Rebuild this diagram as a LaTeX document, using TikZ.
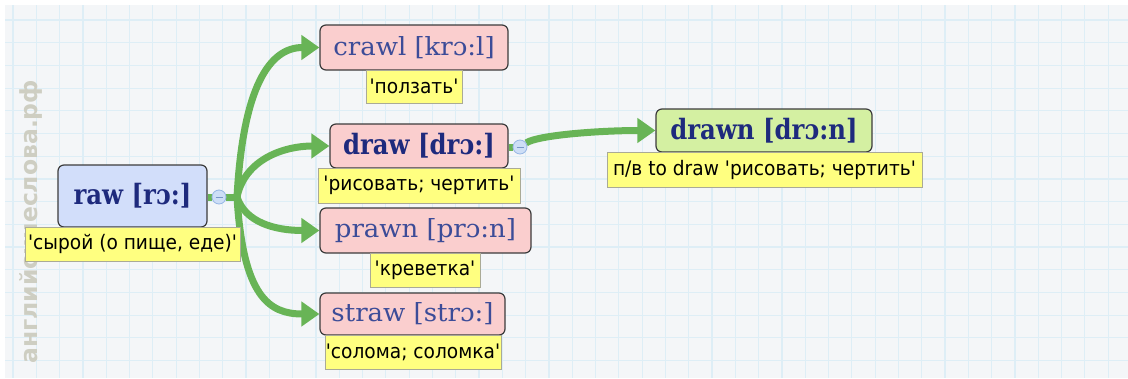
\documentclass[tikz,border=0pt]{standalone}
\usepackage{fontspec}
\usetikzlibrary{arrows.meta}
\newfontfamily\hwreg{DejaVu Serif}[FakeStretch=1.04]
\newfontfamily\hwbold{DejaVu Serif}[FakeStretch=0.87]
\newfontfamily\lblfont{DejaVu Sans}[FakeStretch=0.93]
\newfontfamily\wmfont{DejaVu Sans}
\pgfdeclarelayer{back}
\pgfdeclarelayer{links}
\pgfsetlayers{back,links,main}
\definecolor{bgc}{RGB}{244,246,248}
\definecolor{gridc}{RGB}{222,238,246}
\definecolor{wmc}{RGB}{206,206,194}
\definecolor{linkc}{RGB}{104,180,86}
\definecolor{bluebox}{RGB}{210,222,250}
\definecolor{pinkbox}{RGB}{250,206,206}
\definecolor{greenbox}{RGB}{212,240,162}
\definecolor{yellowbox}{RGB}{255,255,128}
\definecolor{yellowedge}{RGB}{170,170,150}
\definecolor{edgec}{RGB}{60,60,60}
\definecolor{boldtext}{RGB}{30,42,125}
\definecolor{regtext}{RGB}{60,76,152}
\definecolor{circfill}{RGB}{205,222,246}
\definecolor{circedge}{RGB}{150,182,228}
\definecolor{circdash}{RGB}{120,150,200}
\tikzset{
  headbox/.style={draw=edgec, line width=1.2pt, rounded corners=6pt, inner sep=0pt},
  boldword/.style={headbox, text=boldtext, font=\hwbold\bfseries\fontsize{28}{30}\selectfont},
  regword/.style={headbox, text=regtext, font=\hwreg\fontsize{25}{27}\selectfont},
  gloss/.style={draw=yellowedge, line width=0.8pt, fill=yellowbox, inner sep=0pt, text=black, font=\lblfont\fontsize{20}{22}\selectfont},
  link/.style={draw=linkc, line width=7pt},
  arrowlink/.style={link, -{Triangle[length=18pt,width=24pt]}},
  collapser/.style={circle, draw=circedge, line width=0.8pt, fill=circfill, minimum size=14pt, inner sep=0pt}
}
\begin{document}
\begin{tikzpicture}[x=1pt,y=-1pt]
\useasboundingbox (0,0) rectangle (1128,378);
% background
\begin{pgfonlayer}{back}
\fill[white] (0,0) rectangle (1128,378);
\fill[bgc] (5,5) rectangle (1128,378);
\foreach \i in {0,...,48} {\draw[gridc, line width=1.2pt] ({13+23.3*\i},5) -- ({13+23.3*\i},378);}
\foreach \j in {0,...,16} {\draw[gridc, line width=1.2pt] (5,{20+22.7*\j}) -- (1128,{20+22.7*\j});}
\node[rotate=90, anchor=west, text=wmc, inner sep=0pt, font=\wmfont\bfseries\fontsize{23.5}{25}\selectfont] (wm) at (31,364) {английскиеслова.рф};
\end{pgfonlayer}
% head words
\node[boldword, fill=bluebox, minimum width=149pt, minimum height=62pt] (raw) at (132.5,196) {raw [rɔ:]};
\node[regword, fill=pinkbox, minimum width=188pt, minimum height=45pt] (crawl) at (414,47.5) {crawl [krɔ:l]};
\node[boldword, fill=pinkbox, minimum width=178pt, minimum height=44pt] (draw) at (419,146) {draw [drɔ:]};
\node[regword, fill=pinkbox, minimum width=211pt, minimum height=45pt] (prawn) at (425.5,230.5) {prawn [prɔ:n]};
\node[regword, fill=pinkbox, minimum width=185pt, minimum height=42pt] (straw) at (412.5,314) {straw [strɔ:]};
\node[boldword, fill=greenbox, minimum width=216pt, minimum height=43pt] (drawn) at (764,130.5) {drawn [drɔ:n]};
% glosses
\node[gloss, minimum width=215pt, minimum height=34pt] (rawg) at (132.5,244) {'сырой (о пище, еде)'};
\node[gloss, minimum width=96pt, minimum height=33pt] (crawlg) at (414,86.5) {'ползать'};
\node[gloss, minimum width=202pt, minimum height=35pt] (drawg) at (419,185.5) {'рисовать; чертить'};
\node[gloss, minimum width=110pt, minimum height=34pt] (prawng) at (425,270) {'креветка'};
\node[gloss, minimum width=176pt, minimum height=34pt] (strawg) at (413,352) {'солома; соломка'};
\node[gloss, minimum width=315pt, minimum height=35pt] (drawng) at (764.5,169.5) {п/в to draw 'рисовать; чертить'};
% collapse circles and hub
\node[collapser] (rawc) at (219,197) {};
\node[collapser] (drawc) at (520,147) {};
\draw[circdash, line width=1pt] ([xshift=-3.5pt]rawc.center) -- ([xshift=3.5pt]rawc.center);
\draw[circdash, line width=1pt] ([xshift=-3.5pt]drawc.center) -- ([xshift=3.5pt]drawc.center);
\coordinate (hub) at (237,197);
% connectors
\begin{pgfonlayer}{links}
\draw[link] (raw.east |- rawc) -- (rawc);
\draw[link] (rawc) -- (hub);
\draw[arrowlink] (hub) .. controls +(6,-110) and +(-50,0) .. (crawl.west);
\draw[arrowlink] (hub) .. controls +(8,-38) and +(-45,0) .. (draw.west);
\draw[arrowlink] (hub) .. controls +(8,25) and +(-45,0) .. (prawn.west);
\draw[arrowlink] (hub) .. controls +(6,100) and +(-50,0) .. (straw.west);
\draw[link] (draw.east |- drawc) -- (drawc);
\draw[arrowlink] (drawc) .. controls +(18,-12) and +(-55,0) .. (drawn.west);
\end{pgfonlayer}
\end{tikzpicture}
\end{document}
